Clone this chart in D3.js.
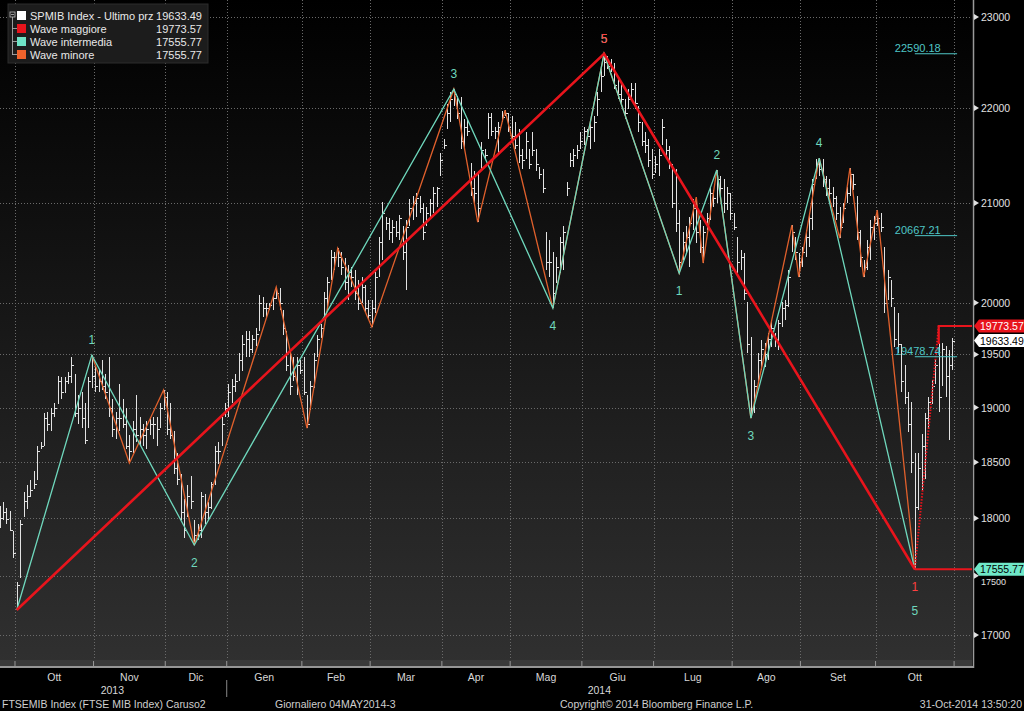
<!DOCTYPE html>
<html><head><meta charset="utf-8">
<script src="https://cdn.jsdelivr.net/npm/d3@7"></script>
<style>
html,body{margin:0;padding:0;background:#000;}
svg{display:block;}
text{font-family:"Liberation Sans",Arial,sans-serif;}
</style></head><body>
<svg id="c" width="1024" height="711"></svg>
<script>
// ---------------- DATA ----------------
const holidays = ["2013-12-24","2013-12-25","2013-12-26","2013-12-31","2014-01-01","2014-04-18","2014-04-21","2014-05-01","2014-08-15"];
const firstDay = "2013-09-24", lastDay = "2014-10-31";
const monthNames = ["Gen","Feb","Mar","Apr","Mag","Giu","Lug","Ago","Set","Ott","Nov","Dic"];
const yTicks = [17000,17500,18000,18500,19000,19500,20000,21000,22000,23000];

// daily bars [high, low, close]
const bars_2013_09 = [[18109,17917,18000],[18141,17981,18050],[18093,17949,17990],[18061,17886,17900],[17886,17650,17700]];
const bars_2013_10 = [[17450,17209,17420],[17981,17480,17950],[18230,18013,18150],[18292,18077,18200],[18340,18185,18250],[18422,18260,18300],[18649,18340,18600],[18680,18616,18650],[18946,18649,18900],[18963,18781,18850],[18996,18781,18950],[19047,18912,19000],[19300,19030,19250],[19283,19081,19150],[19283,19132,19250],[19333,19216,19300],[19480,19233,19400],[19316,18912,18950],[19115,18846,19000],[19148,18814,18900],[19047,18665,18700],[19283,18814,19250],[19494,19182,19300]];
const bars_2013_11 = [[19378,19148,19200],[19350,19148,19250],[19446,19165,19200],[19316,19081,19150],[19480,18912,19000],[19081,18731,18800],[18963,18715,18900],[19216,18781,18900],[19081,18814,18850],[18996,18616,18650],[18748,18492,18600],[18879,18583,18800],[19115,18681,18750],[18912,18649,18800],[18846,18649,18750],[18879,18616,18800],[18912,18748,18850],[18912,18715,18850],[18912,18649,18800],[19047,18814,19000],[19164,18980,19100]];
const bars_2013_12 = [[19148,18748,18800],[19047,18715,18750],[18781,18390,18450],[18583,18292,18350],[18390,17981,18050],[18173,17823,17900],[18292,18013,18200],[18374,18077,18150],[17981,17765,17850],[17949,17806,17900],[18228,17823,18200],[18213,17949,18050],[18141,17981,18100],[18324,18077,18300],[18649,18292,18600],[18681,18487,18600],[18912,18649,18850],[19047,18912,19000]];
const bars_2014_01 = [[19216,18912,19150],[19266,19047,19200],[19316,19148,19250],[19514,19250,19450],[19688,19343,19600],[19722,19480,19650],[19722,19480,19550],[19688,19514,19650],[19757,19584,19700],[20073,19722,20000],[20055,19861,19950],[20002,19861,19950],[20002,19932,19980],[20073,19932,20050],[20154,20038,20100],[20144,19932,20000],[19932,19688,19750],[19722,19343,19400],[19514,19115,19200],[19480,19250,19300],[19480,19115,19400],[19446,19316,19350]];
const bars_2014_02 = [[19480,19115,19150],[19115,18811,18850],[19250,18980,19200],[19514,19182,19450],[19688,19480,19650],[19792,19654,19750],[20109,19861,20050],[20251,19932,20200],[20527,20228,20450],[20500,20327,20450],[20541,20350,20450],[20500,20277,20350],[20447,20129,20200],[20377,20030,20300],[20350,20150,20250],[20327,20030,20100],[20228,19932,20000],[20250,20000,20150],[20178,19912,19950],[20030,19835,19880]];
const bars_2014_03 = [[20030,19764,19950],[20300,19900,20250],[20650,20250,20600],[21015,20427,20900],[20860,20729,20800],[20850,20628,20700],[20831,20598,20750],[20811,20658,20700],[20882,20628,20850],[20760,20427,20500],[20831,20129,20750],[21036,20760,20950],[21067,20831,21000],[21108,20860,21050],[21067,20902,20950],[21005,20628,20700],[20963,20760,20900],[21036,20860,21000],[21170,20902,21100],[21170,20963,21150],[21525,21274,21450]];
const bars_2014_04 = [[21663,21557,21600],[22037,21769,21950],[22167,21844,22100],[22202,22015,22150],[22124,21876,21950],[22113,21557,21650],[21876,21557,21800],[21876,21695,21750],[21420,21067,21150],[21326,21000,21100],[21326,20805,20950],[21631,21347,21550],[21557,21452,21500],[21950,21663,21900],[21950,21700,21750],[21800,21663,21750],[21844,21525,21800],[21962,21844,21900],[21976,21909,21950],[21950,21737,21800]];
const bars_2014_05 = [[21909,21663,21700],[21844,21557,21600],[21769,21420,21500],[21557,21347,21450],[21737,21452,21650],[21557,21347,21400],[21737,21483,21550],[21557,21330,21400],[21378,21243,21300],[21347,21108,21150],[20700,20327,20400],[20628,20250,20400],[20500,19948,20100],[20457,20198,20350],[20658,20297,20600],[20760,20327,20700],[21212,21067,21150],[21525,21378,21450],[21557,21378,21500],[21600,21452,21550],[21737,21557,21650]];
const bars_2014_06 = [[21800,21600,21750],[21769,21663,21700],[21876,21557,21800],[21909,21631,21850],[22167,21909,22100],[22418,22167,22350],[22590.18,22342,22500],[22561,22418,22450],[22528,22385,22420],[22490,22200,22250],[22342,22091,22150],[22270,22015,22100],[22091,21876,21950],[22200,21983,22100],[22270,22091,22200],[22270,21983,22050],[22015,21737,21850],[21844,21590,21650],[21737,21525,21600],[21663,21378,21450],[21557,21243,21300]];
const bars_2014_07 = [[21483,21310,21400],[21557,21274,21500],[21876,21600,21800],[21663,21485,21550],[21590,21347,21400],[21400,20950,21000],[21347,20700,20800],[20933,20291,20400],[20700,20427,20600],[20760,20497,20650],[20860,20357,20800],[21036,20729,20950],[21060,20598,20700],[20831,20497,20550],[20760,20392,20700],[20902,20729,20850],[21170,20831,21100],[21139,20963,21050],[21341,21005,21250],[21274,21036,21150],[21243,20902,21000],[21170,20933,21100],[21108,20831,20900]];
const bars_2014_08 = [[20902,20729,20750],[20658,20297,20400],[20527,20327,20450],[20497,20030,20100],[20010,19516,19600],[19670,18903,19000],[19260,18950,19200],[19516,19231,19450],[19641,19354,19550],[19612,19383,19500],[19709,19450,19650],[19835,19574,19750],[19709,19574,19650],[19835,19545,19800],[20010,19767,19950],[20030,19835,19980],[20327,19962,20250],[20774,20500,20700],[20658,20427,20500],[20497,20253,20400]];
const bars_2014_09 = [[20557,20357,20500],[20729,20457,20650],[20902,20557,20850],[21243,20729,21200],[21452,21243,21400],[21466,21274,21350],[21452,21170,21250],[21274,21067,21150],[21243,21005,21100],[21170,20963,21050],[21067,20831,20900],[20963,20642,20750],[21005,20800,20950],[21170,21005,21100],[21362,21067,21300],[21300,21139,21200],[21067,20628,20700],[20729,20357,20450],[20427,20253,20350],[20628,20327,20550],[20831,20427,20750],[20863,20628,20800]];
const bars_2014_10 = [[20927,20760,20850],[20902,20700,20750],[20557,19900,20000],[20327,20030,20250],[20228,19962,20050],[19962,19574,19650],[19900,19516,19600],[19600,19150,19250],[19400,19030,19100],[19150,18775,18850],[19050,18400,18500],[18583,17555.77,18100],[18583,18073,18450],[18760,18250,18650],[18950,18350,18900],[19100,18800,19050],[19260,19030,19200],[19450,19216,19400],[19612,18960,19100],[19612,19200,19550],[19580,19100,19300],[19545,18702,19400],[19660,19350,19633.49]];

// Elliott waves [date, value]
const waveMaggiore = [["2013-10-01",17209],["2014-06-10",22590.18],["2014-10-16",17555.77]];
const waveMaggioreLabels = ["","5","1"];
const waveIntermedia = [["2013-10-01",17209],["2013-10-31",19494],["2013-12-12",17765],["2014-04-04",22202],["2014-05-20",19948],["2014-06-10",22590.18],["2014-07-10",20291],["2014-07-25",21341],["2014-08-08",18903],["2014-09-08",21466],["2014-10-16",17555.77]];
const waveIntermediaLabels = ["","1","2","3","4","5","1","2","3","4","5"];
const waveMinore = [["2013-10-31",19494],["2013-11-15",18492],["2013-11-29",19164],["2013-12-12",17765],["2014-01-22",20154],["2014-02-04",18811],["2014-02-17",20541],["2014-03-03",19764],["2014-04-04",22202],["2014-04-15",20805],["2014-04-29",21976],["2014-05-20",19948],["2014-06-10",22590.18],["2014-07-10",20291],["2014-07-17",21060],["2014-07-21",20392],["2014-07-25",21341],["2014-08-08",18903],["2014-08-27",20774],["2014-08-29",20253],["2014-09-08",21466],["2014-09-16",20642],["2014-09-19",21362],["2014-09-25",20253],["2014-10-01",20927],["2014-10-16",17555.77]];
const targetDate = "2014-10-27", targetValue = 19773.57;
const fibLevels = [22590.18, 20667.21, 19478.74];
const lastPrice = 19633.49;

const legendRows = [
  {name:"SPMIB Index - Ultimo prz", value:"19633.49", color:"#ffffff"},
  {name:"Wave maggiore", value:"19773.57", color:"#e8141c"},
  {name:"Wave intermedia", value:"17555.77", color:"#6fe3c6"},
  {name:"Wave minore", value:"17555.77", color:"#f0632c"}
];
const footer = [
  {t:"FTSEMIB Index (FTSE MIB Index) Caruso2", x:2, a:"start"},
  {t:"Giornaliero 04MAY2014-3", x:275, a:"start"},
  {t:"Copyright\u00A9 2014 Bloomberg Finance L.P.", x:560, a:"start"},
  {t:"31-Oct-2014 13:50:20", x:1022, a:"end"}
];

// ---------------- CHART ----------------
const W=1024, H=711, plotR=972, plotB=664;
const RED="#e8141c", TEAL="#6fd8bd", ORANGE="#e0602c";
const svg = d3.select("#c");
const defs = svg.append("defs");
const g1 = defs.append("linearGradient").attr("id","bg").attr("x1",0).attr("y1",0).attr("x2",0).attr("y2",1);
g1.append("stop").attr("offset","0%").attr("stop-color","#000000");
g1.append("stop").attr("offset","100%").attr("stop-color","#303030");
defs.append("clipPath").attr("id","clip").append("rect").attr("x",0).attr("y",0).attr("width",plotR).attr("height",plotB);

svg.append("rect").attr("width",W).attr("height",H).attr("fill","#000");
svg.append("rect").attr("x",0).attr("y",0).attr("width",plotR).attr("height",plotB).attr("fill","url(#bg)");

// trading days
const hol = new Set(holidays);
const days = [];
for (let t = Date.parse(firstDay+"T00:00:00Z"); t <= Date.parse(lastDay+"T00:00:00Z"); t += 864e5) {
  const d = new Date(t), wd = d.getUTCDay(), s = d.toISOString().slice(0,10);
  if (wd > 0 && wd < 6 && !hol.has(s)) days.push(s);
}
const idx = new Map(days.map((d,i)=>[d,i]));
const allBars = [].concat(bars_2013_09,bars_2013_10,bars_2013_11,bars_2013_12,bars_2014_01,bars_2014_02,bars_2014_03,bars_2014_04,bars_2014_05,bars_2014_06,bars_2014_07,bars_2014_08,bars_2014_09,bars_2014_10)
  .map((b,i)=>({i, date:days[i], h:b[0], l:b[1], c:b[2]}));

const x = d3.scaleLinear().domain([0, days.length]).range([-2.08, 954.1]);
const cx = i => x(i + 0.5);
const cxd = d => cx(idx.get(d));
const y = d3.scaleLog().domain([17000, 23000]).range([635, 17]);

// month starts
const monthStarts = [];
days.forEach((d,i)=>{ if (i===0 || d.slice(0,7)!==days[i-1].slice(0,7)) monthStarts.push(i); });
const boundaries = monthStarts.filter(i=>i>0).concat([days.length]);

// grid
const grid = svg.append("g").attr("stroke","#6a6a6a").attr("stroke-width",1).attr("stroke-dasharray","1,2").attr("shape-rendering","crispEdges");
grid.selectAll("line.h").data(yTicks).join("line").attr("x1",0).attr("x2",plotR).attr("y1",d=>Math.round(y(d))+0.5).attr("y2",d=>Math.round(y(d))+0.5);
grid.selectAll("line.v").data(boundaries).join("line").attr("x1",d=>Math.round(x(d))+0.5).attr("x2",d=>Math.round(x(d))+0.5).attr("y1",0).attr("y2",plotB);

const plot = svg.append("g").attr("clip-path","url(#clip)");

// OHLC bars
const bg = plot.append("g").attr("stroke","#e2e2e2").attr("stroke-width",1).attr("shape-rendering","crispEdges");
bg.selectAll("line.b").data(allBars).join("line")
  .attr("x1",d=>Math.round(cx(d.i))+0.5).attr("x2",d=>Math.round(cx(d.i))+0.5)
  .attr("y1",d=>y(d.h)).attr("y2",d=>y(d.l));
bg.selectAll("line.c").data(allBars).join("line")
  .attr("x1",d=>Math.round(cx(d.i))+0.5).attr("x2",d=>Math.round(cx(d.i))+2.5)
  .attr("y1",d=>Math.round(y(d.c))+0.5).attr("y2",d=>Math.round(y(d.c))+0.5);

// waves
const line = d3.line().x(d=>cxd(d[0])).y(d=>y(d[1]));
plot.append("path").attr("d",line(waveMinore)).attr("fill","none").attr("stroke",ORANGE).attr("stroke-width",1.3);
plot.append("path").attr("d",line(waveIntermedia)).attr("fill","none").attr("stroke",TEAL).attr("stroke-width",1.3);
plot.append("path").attr("d",line(waveMaggiore)).attr("fill","none").attr("stroke",RED).attr("stroke-width",2.6);

// red target projection
const last = waveMaggiore[waveMaggiore.length-1];
const tx = cxd(targetDate);
plot.append("line").attr("x1",cxd(last[0])).attr("y1",y(last[1])).attr("x2",tx).attr("y2",y(targetValue))
  .attr("stroke",RED).attr("stroke-width",2).attr("stroke-dasharray","1.5,1.5");
plot.append("path").attr("d",`M${tx},${y(targetValue)+18}V${y(targetValue)}H${plotR}`).attr("fill","none").attr("stroke",RED).attr("stroke-width",2.2);
plot.append("line").attr("x1",cxd(last[0])).attr("x2",plotR).attr("y1",y(last[1])).attr("y2",y(last[1])).attr("stroke",RED).attr("stroke-width",2.2);

// fib levels
const fx1 = cxd(last[0]), fx2 = x(days.length)+3;
fibLevels.forEach(v=>{
  svg.append("line").attr("x1",fx1).attr("x2",fx2).attr("y1",y(v)).attr("y2",y(v)).attr("stroke","#4fc6c6").attr("stroke-width",1);
  svg.append("text").attr("x",fx1-20).attr("y",y(v)-1.5).attr("fill","#4fc6c6").attr("font-size",11).text(d3.format(".2f")(v));
});

// wave labels
function labels(pts, labs, color, extraBelow) {
  pts.forEach((p,k)=>{
    if (!labs[k]) return;
    const prev = pts[k-1];
    const up = prev ? p[1] > prev[1] : true;
    let yy = up ? y(p[1]) - 11 : y(p[1]) + 22 + (extraBelow && k===pts.length-1 ? 24 : 0);
    svg.append("text").attr("x",cxd(p[0])).attr("y",yy).attr("text-anchor","middle")
      .attr("fill",color).attr("font-size",12).text(labs[k]);
  });
}
labels(waveIntermedia, waveIntermediaLabels, TEAL, true);
labels(waveMaggiore, waveMaggioreLabels, "#ff4040", false);

// x axis band
svg.append("rect").attr("x",0).attr("y",660).attr("width",plotR).attr("height",6).attr("fill","#3a3a3a");
svg.append("line").attr("x1",0).attr("x2",974).attr("y1",667).attr("y2",667).attr("stroke","#c8c8c8").attr("stroke-width",1.5);
svg.selectAll("line.mt").data(boundaries).join("line")
  .attr("x1",d=>x(d)).attr("x2",d=>x(d)).attr("y1",661).attr("y2",667).attr("stroke","#999").attr("stroke-width",1);

// month labels
const monthSpans = monthStarts.map((s,k)=>({s, e: k+1<monthStarts.length ? monthStarts[k+1] : days.length}));
svg.selectAll("text.m").data(monthSpans.filter(m=>m.e-m.s>10)).join("text")
  .attr("x",m=>(x(m.s)+x(m.e))/2).attr("y",681).attr("text-anchor","middle").attr("fill","#d8d8d8").attr("font-size",10.5)
  .text(m=>monthNames[+days[m.s].slice(5,7)-1]);
// year labels
const yearStart = monthStarts.find(i=>days[i].slice(0,4)==="2014");
svg.append("text").attr("x",(x(0)+x(yearStart))/2).attr("y",694).attr("text-anchor","middle").attr("fill","#d8d8d8").attr("font-size",10.5).text(days[0].slice(0,4));
svg.append("text").attr("x",(x(yearStart)+plotR)/2).attr("y",694).attr("text-anchor","middle").attr("fill","#d8d8d8").attr("font-size",10.5).text(days[yearStart].slice(0,4));
svg.append("line").attr("x1",x(yearStart)).attr("x2",x(yearStart)).attr("y1",680).attr("y2",697).attr("stroke","#888");

// price tags (positions first, to keep axis labels clear of them)
const tags = [
  {v:targetValue, fill:RED, t:"#fff"},
  {v:lastPrice, fill:"#ffffff", t:"#000"},
  {v:last[1], fill:"#6fe8c8", t:"#000"}
];

// right axis
svg.append("line").attr("x1",973.5).attr("x2",973.5).attr("y1",0).attr("y2",668).attr("stroke","#9a9a9a").attr("stroke-width",1.5);
yTicks.forEach(v=>{
  const yy = y(v);
  svg.append("path").attr("d",`M974,${yy-3}L979,${yy}L974,${yy+3}Z`).attr("fill","#e0e0e0");
  const hit = tags.find(tg => Math.abs(y(tg.v) - yy) < 11);
  const ly = hit ? y(hit.v) + 6.5 + 9.5 : yy + 4;
  svg.append("text").attr("x",981).attr("y",ly).attr("fill","#e0e0e0").attr("font-size",hit?9:10.5).text(v);
});

tags.forEach(tg=>{
  const yy = y(tg.v);
  svg.append("path").attr("d",`M974,${yy}L979,${yy-6.5}H1024V${yy+6.5}H979Z`).attr("fill",tg.fill);
  svg.append("text").attr("x",980).attr("y",yy+4).attr("fill",tg.t).attr("font-size",10.5).text(d3.format(".2f")(tg.v));
});

// legend
const lg = svg.append("g");
lg.append("rect").attr("x",8).attr("y",4).attr("width",200).attr("height",59).attr("fill","#1c1c1c").attr("stroke","#2c2c2c");
lg.append("rect").attr("x",10).attr("y",12).attr("width",5).attr("height",5).attr("fill","none").attr("stroke","#bbb").attr("stroke-width",0.8);
lg.append("line").attr("x1",11).attr("x2",14).attr("y1",14.5).attr("y2",14.5).attr("stroke","#bbb").attr("stroke-width",0.8);
lg.append("line").attr("x1",12.5).attr("x2",12.5).attr("y1",17).attr("y2",55).attr("stroke","#bbb").attr("stroke-width",0.8);
legendRows.forEach((r,k)=>{
  const yy = 15.5 + k*13;
  if (k>0) lg.append("line").attr("x1",12.5).attr("x2",17).attr("y1",yy).attr("y2",yy).attr("stroke","#bbb").attr("stroke-width",0.8);
  lg.append("rect").attr("x",17).attr("y",yy-4.5).attr("width",9).attr("height",9).attr("fill",r.color);
  lg.append("text").attr("x",30).attr("y",yy+4).attr("fill","#e8e8e8").attr("font-size",11).text(r.name);
  lg.append("text").attr("x",202).attr("y",yy+4).attr("text-anchor","end").attr("fill","#e8e8e8").attr("font-size",11).text(r.value);
});

// footer
svg.selectAll("text.f").data(footer).join("text").attr("x",d=>d.x).attr("y",708).attr("text-anchor",d=>d.a)
  .attr("fill","#cfcfcf").attr("font-size",10.5).text(d=>d.t);
</script>
</body></html>
